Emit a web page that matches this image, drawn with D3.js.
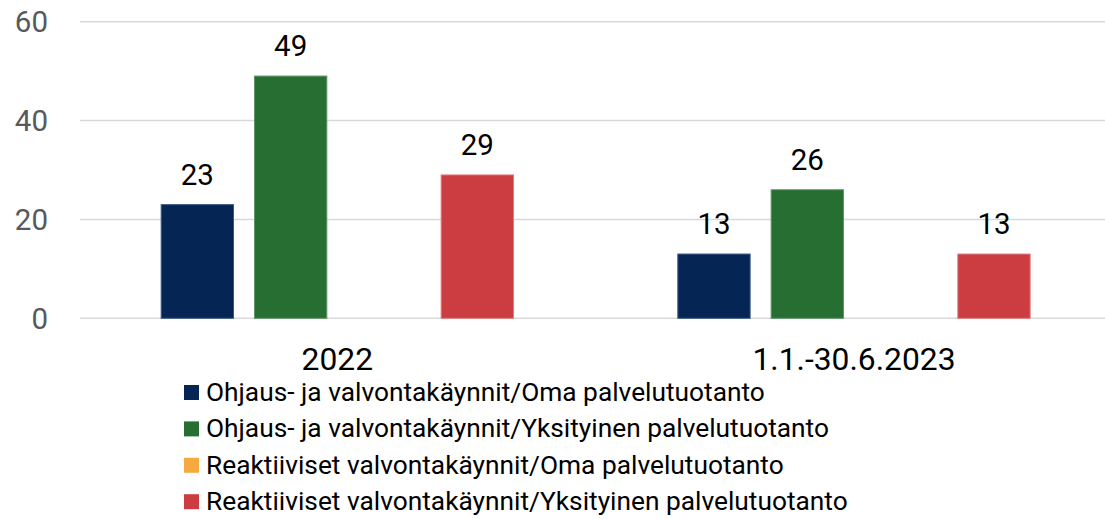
<!DOCTYPE html>
<html>
<head>
<meta charset="utf-8">
<script src="https://cdn.jsdelivr.net/npm/d3@7"></script>
<style>
  body { margin: 0; background: #fff; }
  svg { display: block; font-family: Roboto, "Noto Sans", sans-serif; }
</style>
</head>
<body>
<div class="graph"></div>
<script>
// datos
const categories = ['2022', '1.1.-30.6.2023']
const seriesNames = [
  'Ohjaus- ja valvontakäynnit/Oma palvelutuotanto',
  'Ohjaus- ja valvontakäynnit/Yksityinen palvelutuotanto',
  'Reaktiiviset valvontakäynnit/Oma palvelutuotanto',
  'Reaktiiviset valvontakäynnit/Yksityinen palvelutuotanto'
]
const ohjausOma = [23, 13]
const ohjausYksityinen = [49, 26]
const reaktiivisetOma = [null, null]
const reaktiivisetYksityinen = [29, 13]
const yTicks = [0, 20, 40, 60]

const colors = ['#052654', '#276e32', '#f5aa40', '#cc3d41']
const strokes = ['#3d5a85', '#5e9466', '#f8c57c', '#e07a7d']

const seriesValues = [ohjausOma, ohjausYksityinen, reaktiivisetOma, reaktiivisetYksityinen]

// tamaño
const width = 1105, height = 519

const svg = d3.select('.graph')
  .append('svg')
  .attr('width', width)
  .attr('height', height)

// escalas
const x0 = d3.scaleBand()
  .domain(categories)
  .range([79, 1112.3])
  .padding(0)

const x1 = d3.scaleBand()
  .domain(d3.range(seriesNames.length))
  .range([0, x0.bandwidth()])
  .paddingInner(0.2143)
  .paddingOuter(0.875)

const y = d3.scaleLinear()
  .domain([0, 60])
  .range([318.3, 21.7])

// grid
svg.append('g')
  .selectAll('line')
  .data(yTicks)
  .join('line')
  .attr('x1', 80)
  .attr('x2', width)
  .attr('y1', d => y(d))
  .attr('y2', d => y(d))
  .attr('stroke', '#d9d9d9')
  .attr('stroke-width', 1.5)

// eje Y
svg.append('g')
  .selectAll('text')
  .data(yTicks)
  .join('text')
  .attr('x', 48)
  .attr('y', d => y(d))
  .attr('dy', '0.36em')
  .attr('text-anchor', 'end')
  .attr('fill', '#595959')
  .style('font-size', '29.5px')
  .text(d => d)

// barras
const bars = []
seriesValues.forEach((vals, s) => {
  vals.forEach((v, c) => {
    if (v !== null) bars.push({ s, c, v })
  })
})

svg.append('g')
  .selectAll('rect')
  .data(bars)
  .join('rect')
  .attr('x', d => x0(categories[d.c]) + x1(d.s) + 0.5)
  .attr('width', x1.bandwidth() - 1)
  .attr('y', d => y(d.v))
  .attr('height', d => y(0) - y(d.v))
  .attr('fill', d => colors[d.s])
  .attr('stroke', d => strokes[d.s])
  .attr('stroke-width', 1)

// etiquetas de valores
svg.append('g')
  .selectAll('text')
  .data(bars)
  .join('text')
  .attr('x', d => x0(categories[d.c]) + x1(d.s) + x1.bandwidth() / 2)
  .attr('y', d => y(d.v) - 20)
  .attr('text-anchor', 'middle')
  .attr('fill', '#000')
  .style('font-size', '29.5px')
  .text(d => d.v)

// eje X
svg.append('g')
  .selectAll('text')
  .data(categories)
  .join('text')
  .attr('x', d => x0(d) + x0.bandwidth() / 2)
  .attr('y', 369.5)
  .attr('text-anchor', 'middle')
  .attr('fill', '#000')
  .style('font-size', '31.8px')
  .text(d => d)

// leyenda
const legend = svg.append('g')
  .selectAll('g')
  .data(seriesNames)
  .join('g')
  .attr('transform', (d, i) => `translate(184,${401 + i * 36.4})`)

legend.append('rect')
  .attr('x', 0)
  .attr('y', -16)
  .attr('width', 15)
  .attr('height', 15)
  .attr('fill', (d, i) => colors[i])

legend.append('text')
  .attr('x', 22)
  .attr('y', 0)
  .attr('fill', '#000')
  .style('font-size', '26.3px')
  .text(d => d)
</script>
</body>
</html>
